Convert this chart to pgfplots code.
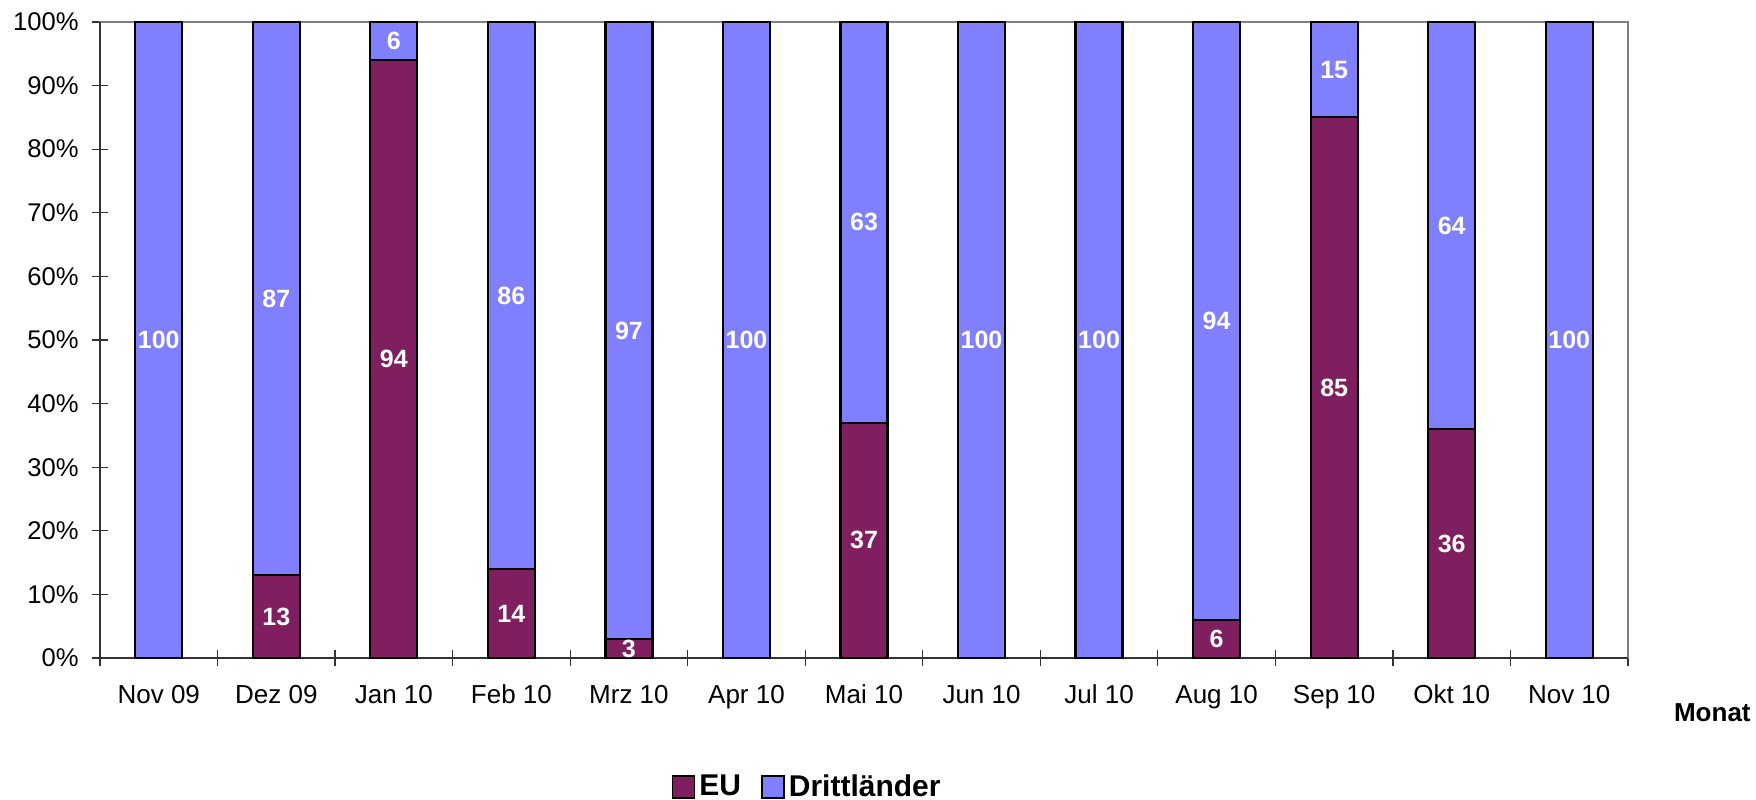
\documentclass[border=0pt]{standalone}
\usepackage{pgfplots}
\pgfplotsset{compat=1.18}
\usepackage{fontspec}
\setmainfont{Liberation Sans}
\definecolor{eucol}{HTML}{7F1F5F}
\definecolor{drcol}{HTML}{8080FF}
\begin{document}
\begin{tikzpicture}
\begin{axis}[
  scale only axis, width=764pt, height=318pt,
  /pgf/number format/assume math mode=true,
  ybar stacked, bar width=23.5pt,
  xmin=-0.5, xmax=12.5, ymin=0, ymax=100,
  xtick={-0.5,0.5,...,12.5},
  x tick label as interval,
  xticklabels={Nov 09,Dez 09,Jan 10,Feb 10,Mrz 10,Apr 10,Mai 10,Jun 10,Jul 10,Aug 10,Sep 10,Okt 10,Nov 10},
  ytick={0,10,...,100},
  yticklabels={0\%,10\%,20\%,30\%,40\%,50\%,60\%,70\%,80\%,90\%,100\%},
  tick pos=left,
  tick align=center, major tick length=8pt,
  tick style={black!80, line width=0.6pt},
  axis line style={black!50, line width=0.7pt},
  xticklabel style={font=\fontsize{13}{15}\selectfont, anchor=base, yshift=-19pt},
  yticklabel style={font=\fontsize{12.8}{15}\selectfont, anchor=east, xshift=-3.2pt},
  clip=false,
  nodes near coords={\pgfmathfloatifflags{\pgfplotspointmeta}{0}{}{\pgfmathprintnumber{\pgfplotspointmeta}}},
  every node near coord/.append style={anchor=center, text=white, font=\bfseries\fontsize{12.5}{14}\selectfont},
  legend style={at={(0.4634,-0.2028)}, anchor=center, draw=none, legend columns=-1, font=\bfseries\fontsize{15}{18}\selectfont, /tikz/every even column/.append style={column sep=8pt}},
  legend image code/.code={\draw[#1, line width=0.9pt] (0pt,-5.5pt) rectangle (11pt,5.5pt);},
]
\addplot[fill=eucol, draw=black, line width=1.1pt] coordinates {(0,0) (1,13) (2,94) (3,14) (4,3) (5,0) (6,37) (7,0) (8,0) (9,6) (10,85) (11,36) (12,0)};
\addplot[fill=drcol, draw=black, line width=1.1pt] coordinates {(0,100) (1,87) (2,6) (3,86) (4,97) (5,100) (6,63) (7,100) (8,100) (9,94) (10,15) (11,64) (12,100)};
\legend{EU,Drittländer}
\draw[black!80, line width=0.8pt] (rel axis cs:0,1) -- (rel axis cs:0,0) -- (rel axis cs:1,0);
\node[anchor=base east, inner sep=0pt, font=\bfseries\fontsize{13}{15}\selectfont] at (rel axis cs:1,0) [xshift=61.5pt, yshift=-32pt] {Monat};
\coordinate (sw) at (rel axis cs:0,0);
\coordinate (ne) at (rel axis cs:1,1);
\end{axis}
\pgfresetboundingbox
\path[use as bounding box] ([shift={(-50pt,-71pt)}]sw) rectangle ([shift={(64pt,11pt)}]ne);
\end{tikzpicture}
\end{document}
